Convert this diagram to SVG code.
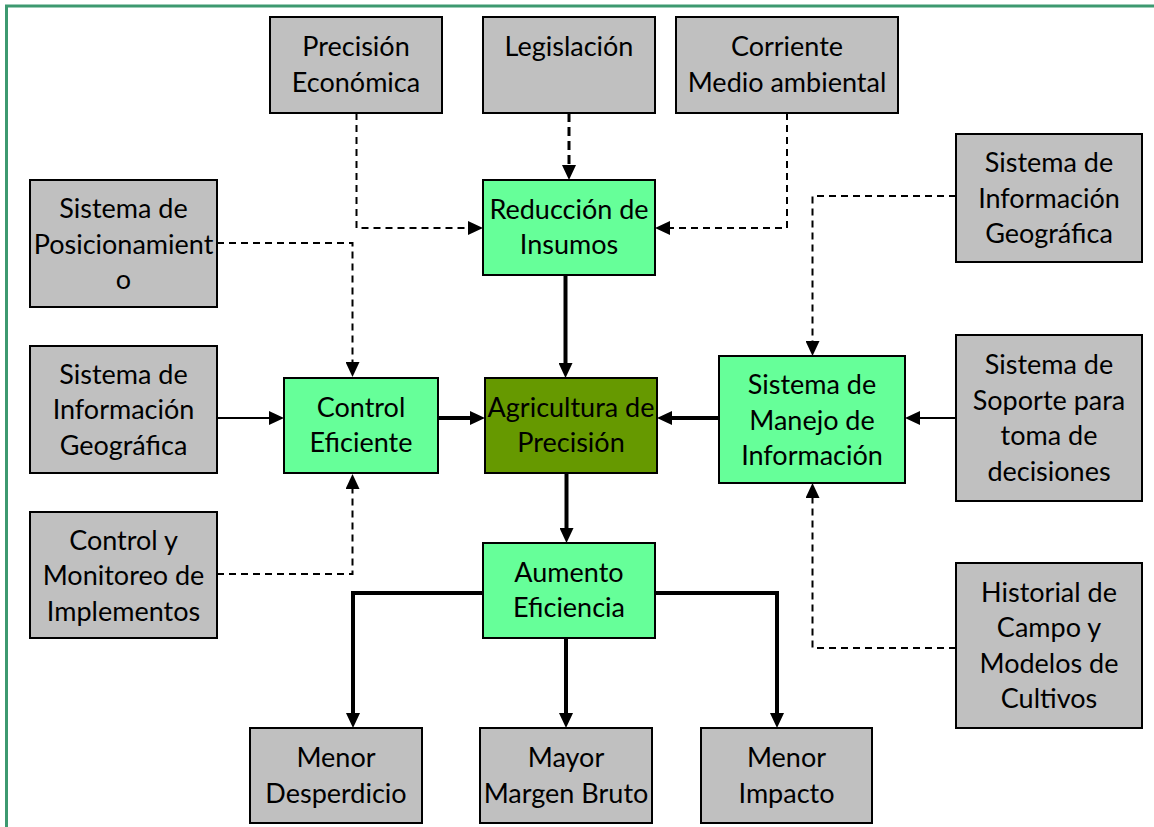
<svg xmlns="http://www.w3.org/2000/svg" width="1154" height="827" viewBox="0 0 1154 827">
<defs>
<style>
.box{stroke:#000;stroke-width:2}
.gray{fill:#c0c0c0}
.lg{fill:#66ff99}
.dg{fill:#669900}
text{font-family:Lato,"Liberation Sans",sans-serif;font-size:27px;fill:#000;text-anchor:middle}
.dash{fill:none;stroke:#000;stroke-width:2;stroke-dasharray:7 5}
.dash2{fill:none;stroke:#000;stroke-width:3;stroke-dasharray:9 5}
.thin{fill:none;stroke:#000;stroke-width:2}
.thick{fill:none;stroke:#000;stroke-width:4}
</style>
<marker id="ah" viewBox="0 0 15 14" markerWidth="15" markerHeight="14" refX="5" refY="7" orient="auto" markerUnits="userSpaceOnUse">
<path d="M0,0 L15,7 L0,14 z" fill="#000"/>
</marker>
</defs>
<rect width="1154" height="827" fill="#fff"/>
<path d="M6.5,827 V6 H1154" fill="none" stroke="#3d9970" stroke-width="3"/>

<g id="connectors">
<path class="dash" d="M356.5,113 V228 H473" marker-end="url(#ah)"/>
<path class="dash2" d="M569,113 V170" marker-end="url(#ah)"/>
<path class="dash" d="M787,113 V228 H665" marker-end="url(#ah)"/>
<path class="dash" d="M217,243 H352.5 V367" marker-end="url(#ah)"/>
<path class="dash" d="M217,574 H352.5 V484" marker-end="url(#ah)"/>
<path class="dash" d="M956,196 H812.5 V346" marker-end="url(#ah)"/>
<path class="dash" d="M956,648 H812.5 V493" marker-end="url(#ah)"/>
<path class="thin" d="M217,418 H274" marker-end="url(#ah)"/>
<path class="thick" d="M438,418 H475" marker-end="url(#ah)"/>
<path class="thick" d="M719,418 H667" marker-end="url(#ah)"/>
<path class="thin" d="M956,418 H915" marker-end="url(#ah)"/>
<path class="thick" d="M565.5,275 V368" marker-end="url(#ah)"/>
<path class="thick" d="M566.5,473 V533" marker-end="url(#ah)"/>
<path class="thick" d="M483,593 H353 V718" marker-end="url(#ah)"/>
<path class="thick" d="M566,638 V718" marker-end="url(#ah)"/>
<path class="thick" d="M655,593 H777 V718" marker-end="url(#ah)"/>
</g>

<g id="precision-economica"><rect class="box gray" x="270" y="17" width="172" height="96"/><text x="356" y="56">Precisión</text><text x="356" y="92">Económica</text></g>
<g id="legislacion"><rect class="box gray" x="483" y="17" width="172" height="96"/><text x="569" y="56">Legislación</text></g>
<g id="corriente"><rect class="box gray" x="676" y="17" width="222" height="96"/><text x="787" y="56">Corriente</text><text x="787" y="92">Medio ambiental</text></g>
<g id="sig-derecha"><rect class="box gray" x="956" y="134" width="186" height="128"/><text x="1049" y="172">Sistema de</text><text x="1049" y="207.5">Información</text><text x="1049" y="243">Geográfica</text></g>
<g id="reduccion"><rect class="box lg" x="483" y="180" width="172" height="95"/><text x="569" y="218.5">Reducción de</text><text x="569" y="254">Insumos</text></g>
<g id="posicionamiento"><rect class="box gray" x="30" y="180" width="187" height="127"/><text x="123.5" y="218">Sistema de</text><text x="123.5" y="253.5">Posicionamient</text><text x="123.5" y="289">o</text></g>
<g id="sig-izquierda"><rect class="box gray" x="30" y="346" width="187" height="127"/><text x="123.5" y="383.5">Sistema de</text><text x="123.5" y="419">Información</text><text x="123.5" y="454.5">Geográfica</text></g>
<g id="control-eficiente"><rect class="box lg" x="284" y="378" width="154" height="95"/><text x="361" y="416.5">Control</text><text x="361" y="452">Eficiente</text></g>
<g id="agricultura"><rect class="box dg" x="485" y="378" width="172" height="95"/><text x="571" y="416.5">Agricultura de</text><text x="571" y="452">Precisión</text></g>
<g id="manejo"><rect class="box lg" x="719" y="356" width="186" height="127"/><text x="812" y="394">Sistema de</text><text x="812" y="429.5">Manejo de</text><text x="812" y="465">Información</text></g>
<g id="soporte"><rect class="box gray" x="956" y="335" width="186" height="166"/><text x="1049" y="374">Sistema de</text><text x="1049" y="409.5">Soporte para</text><text x="1049" y="445">toma de</text><text x="1049" y="480.5">decisiones</text></g>
<g id="monitoreo"><rect class="box gray" x="30" y="512" width="187" height="126"/><text x="123.5" y="549.5">Control y</text><text x="123.5" y="585">Monitoreo de</text><text x="123.5" y="620.5">Implementos</text></g>
<g id="aumento"><rect class="box lg" x="483" y="543" width="172" height="95"/><text x="569" y="581.5">Aumento</text><text x="569" y="617">Eficiencia</text></g>
<g id="historial"><rect class="box gray" x="956" y="563" width="186" height="165"/><text x="1049" y="601.5">Historial de</text><text x="1049" y="637">Campo y</text><text x="1049" y="672.5">Modelos de</text><text x="1049" y="708">Cultivos</text></g>
<g id="menor-desperdicio"><rect class="box gray" x="250" y="728" width="172" height="95"/><text x="336" y="767">Menor</text><text x="336" y="802.5">Desperdicio</text></g>
<g id="mayor-margen"><rect class="box gray" x="480" y="728" width="172" height="95"/><text x="566" y="767">Mayor</text><text x="566" y="802.5">Margen Bruto</text></g>
<g id="menor-impacto"><rect class="box gray" x="701" y="728" width="171" height="95"/><text x="786.5" y="767">Menor</text><text x="786.5" y="802.5">Impacto</text></g>
</svg>
